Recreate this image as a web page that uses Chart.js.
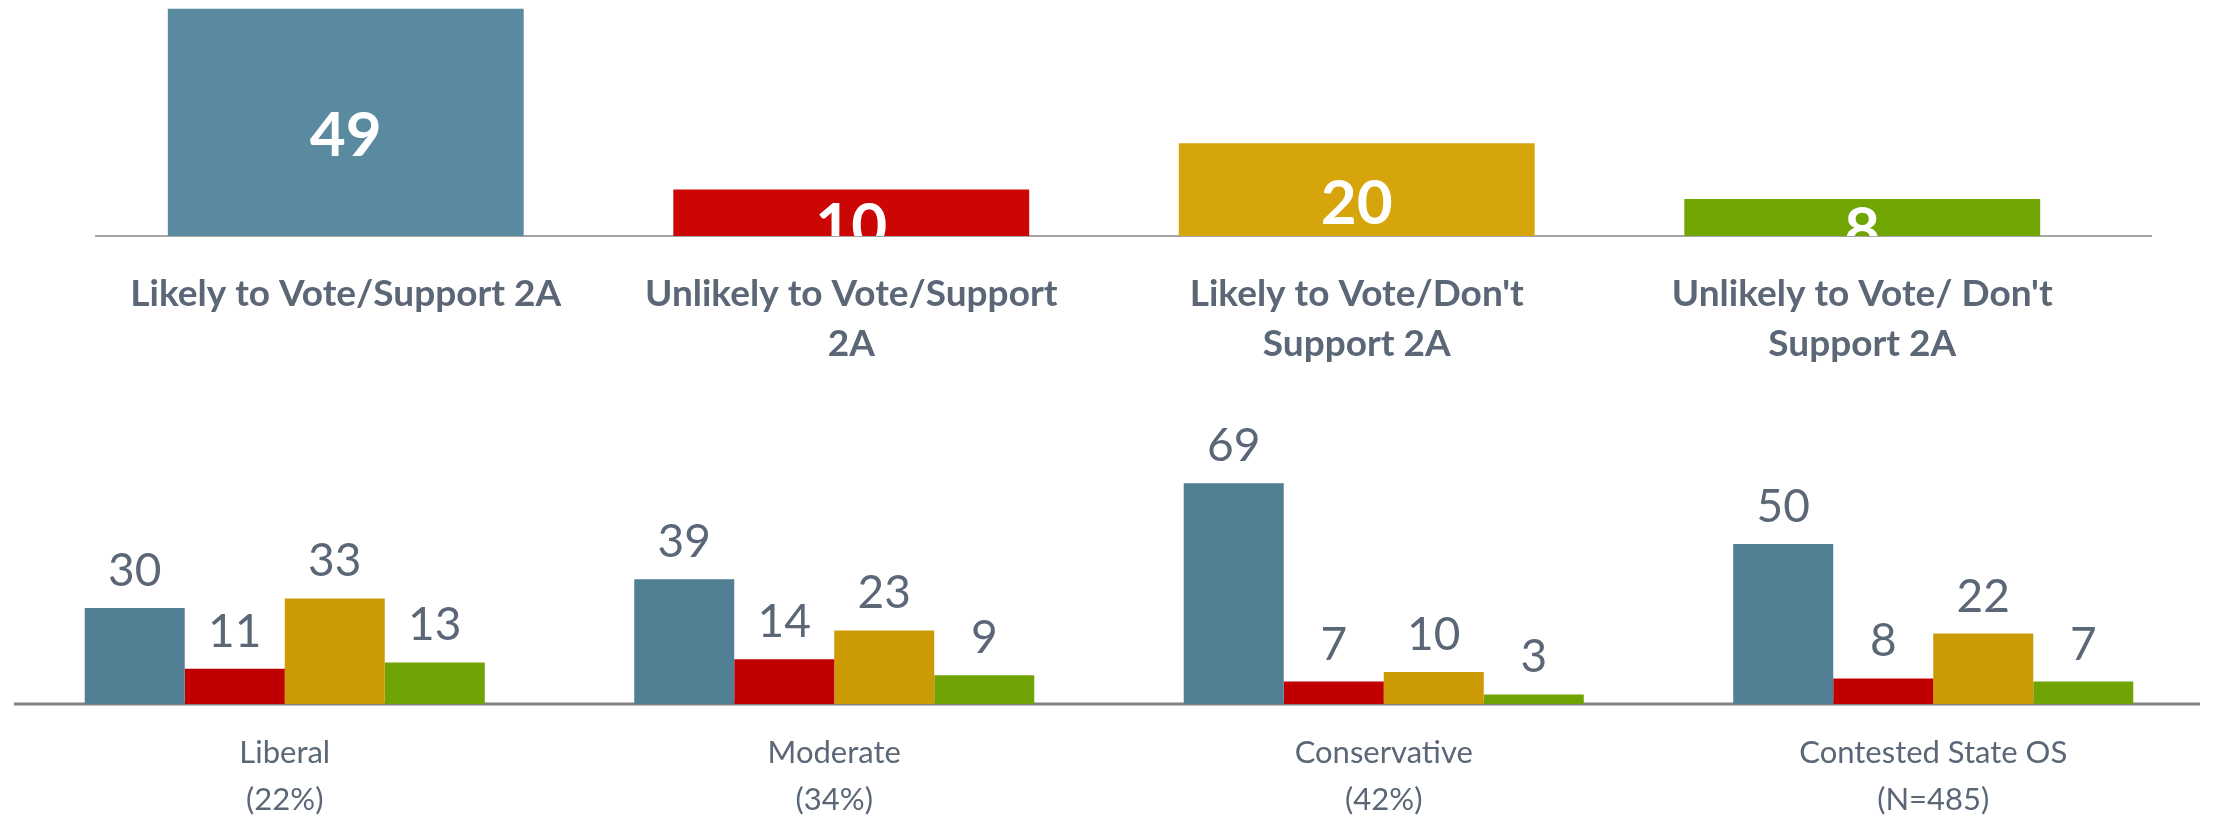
<!DOCTYPE html>
<html>
<head>
<meta charset="utf-8">
<script src="https://cdn.jsdelivr.net/npm/chart.js@4/dist/chart.umd.min.js"></script>
<style>
    body { margin: 0; background: #fff; }
    #topChart { position: absolute; left: 0; top: 0; }
    #bottomChart { position: absolute; left: 0; top: 380px; }
</style>
</head>
<body>
<canvas id="topChart" width="2216" height="380"></canvas>
<canvas id="bottomChart" width="2216" height="442"></canvas>
<script>
// Overall segments (top chart)
const segmentLabels = [
    'Likely to Vote/Support 2A',
    ['Unlikely to Vote/Support', '2A'],
    ["Likely to Vote/Don't", 'Support 2A'],
    ["Unlikely to Vote/ Don't", 'Support 2A']
];
const segmentValues = [49, 10, 20, 8];
const segmentColors = ['#598a9f', '#cc0605', '#d6a50c', '#71a504'];

// By ideology (bottom chart)
const groupLabels = [
    ['Liberal', '(22%)'],
    ['Moderate', '(34%)'],
    ['Conservative', '(42%)'],
    ['Contested State OS', '(N=485)']
];
const seriesNames = ['Likely/Support', 'Unlikely/Support', "Likely/Don't Support", "Unlikely/Don't Support"];
const likelySupport = [30, 39, 69, 50];
const unlikelySupport = [11, 14, 7, 8];
const likelyNoSupport = [33, 23, 10, 22];
const unlikelyNoSupport = [13, 9, 3, 7];
const seriesColors = ['#517f93', '#c00000', '#cc9a04', '#70a404'];

const textColor = '#5b6777';
const fontFamily = 'Lato, "Open Sans", sans-serif';

// draws value labels on bars
const valueLabels = {
    id: 'valueLabels',
    afterDatasetsDraw(chart, args, opts) {
        const ctx = chart.ctx;
        const area = chart.chartArea;
        ctx.save();
        if (opts.clip) {
            ctx.beginPath();
            ctx.rect(0, 0, chart.width, area.bottom);
            ctx.clip();
        }
        ctx.font = opts.font;
        ctx.fillStyle = opts.color;
        ctx.textAlign = 'center';
        chart.data.datasets.forEach((ds, i) => {
            chart.getDatasetMeta(i).data.forEach((bar, j) => {
                const v = ds.data[j];
                if (opts.inside) {
                    ctx.textBaseline = 'middle';
                    ctx.fillText(v, bar.x, (bar.y + bar.base) / 2 + opts.offset);
                } else {
                    ctx.textBaseline = 'alphabetic';
                    ctx.fillText(v, bar.x, bar.y - opts.offset);
                }
            });
        });
        ctx.restore();
    }
};

// baseline drawn across the plot
const baseLine = {
    id: 'baseLine',
    beforeDatasetsDraw(chart, args, opts) {
        const ctx = chart.ctx;
        const y = chart.scales.y.getPixelForValue(0);
        ctx.save();
        ctx.strokeStyle = opts.color;
        ctx.lineWidth = opts.width;
        ctx.beginPath();
        ctx.moveTo(opts.from, y);
        ctx.lineTo(opts.to, y);
        ctx.stroke();
        ctx.restore();
    }
};

new Chart(document.getElementById('topChart'), {
    type: 'bar',
    data: {
        labels: segmentLabels,
        datasets: [{
            data: segmentValues,
            backgroundColor: segmentColors,
            categoryPercentage: 1,
            barPercentage: 0.704
        }]
    },
    options: {
        responsive: false,
        animation: false,
        layout: { padding: { top: 4, left: 93, right: 101, bottom: 0 } },
        plugins: {
            legend: { display: false },
            tooltip: { enabled: false },
            valueLabels: { font: 'bold 62px ' + fontFamily, color: '#ffffff', inside: true, offset: 14, clip: true },
            baseLine: { color: '#a6a6a6', width: 2, from: 95, to: 2152 }
        },
        scales: {
            y: { display: false, min: 0, max: 50 },
            x: {
                grid: { display: false, drawTicks: false },
                border: { display: false },
                ticks: {
                    color: textColor,
                    font: { family: fontFamily, size: 37, weight: 'bold', lineHeight: 1.35 },
                    padding: 33,
                    autoSkip: false,
                    maxRotation: 0
                },
                afterFit: (scale) => { scale.height = 144; }
            }
        }
    },
    plugins: [baseLine, valueLabels]
});

new Chart(document.getElementById('bottomChart'), {
    type: 'bar',
    data: {
        labels: groupLabels,
        datasets: [likelySupport, unlikelySupport, likelyNoSupport, unlikelyNoSupport].map((vals, i) => ({
            label: seriesNames[i],
            data: vals,
            backgroundColor: seriesColors[i],
            categoryPercentage: 0.728,
            barPercentage: 1
        }))
    },
    options: {
        responsive: false,
        animation: false,
        layout: { padding: { top: 68, left: 10, right: 8, bottom: 0 } },
        plugins: {
            legend: { display: false },
            tooltip: { enabled: false },
            valueLabels: { font: '46px ' + fontFamily, color: textColor, inside: false, offset: 22, clip: false },
            baseLine: { color: '#808080', width: 3, from: 14, to: 2200 }
        },
        scales: {
            y: { display: false, min: 0, max: 80 },
            x: {
                grid: { display: false, drawTicks: false },
                border: { display: false },
                ticks: {
                    color: textColor,
                    font: { family: fontFamily, size: 31, lineHeight: 1.52 },
                    padding: 25,
                    autoSkip: false,
                    maxRotation: 0
                },
                afterFit: (scale) => { scale.height = 118; }
            }
        }
    },
    plugins: [baseLine, valueLabels]
});
</script>
</body>
</html>
